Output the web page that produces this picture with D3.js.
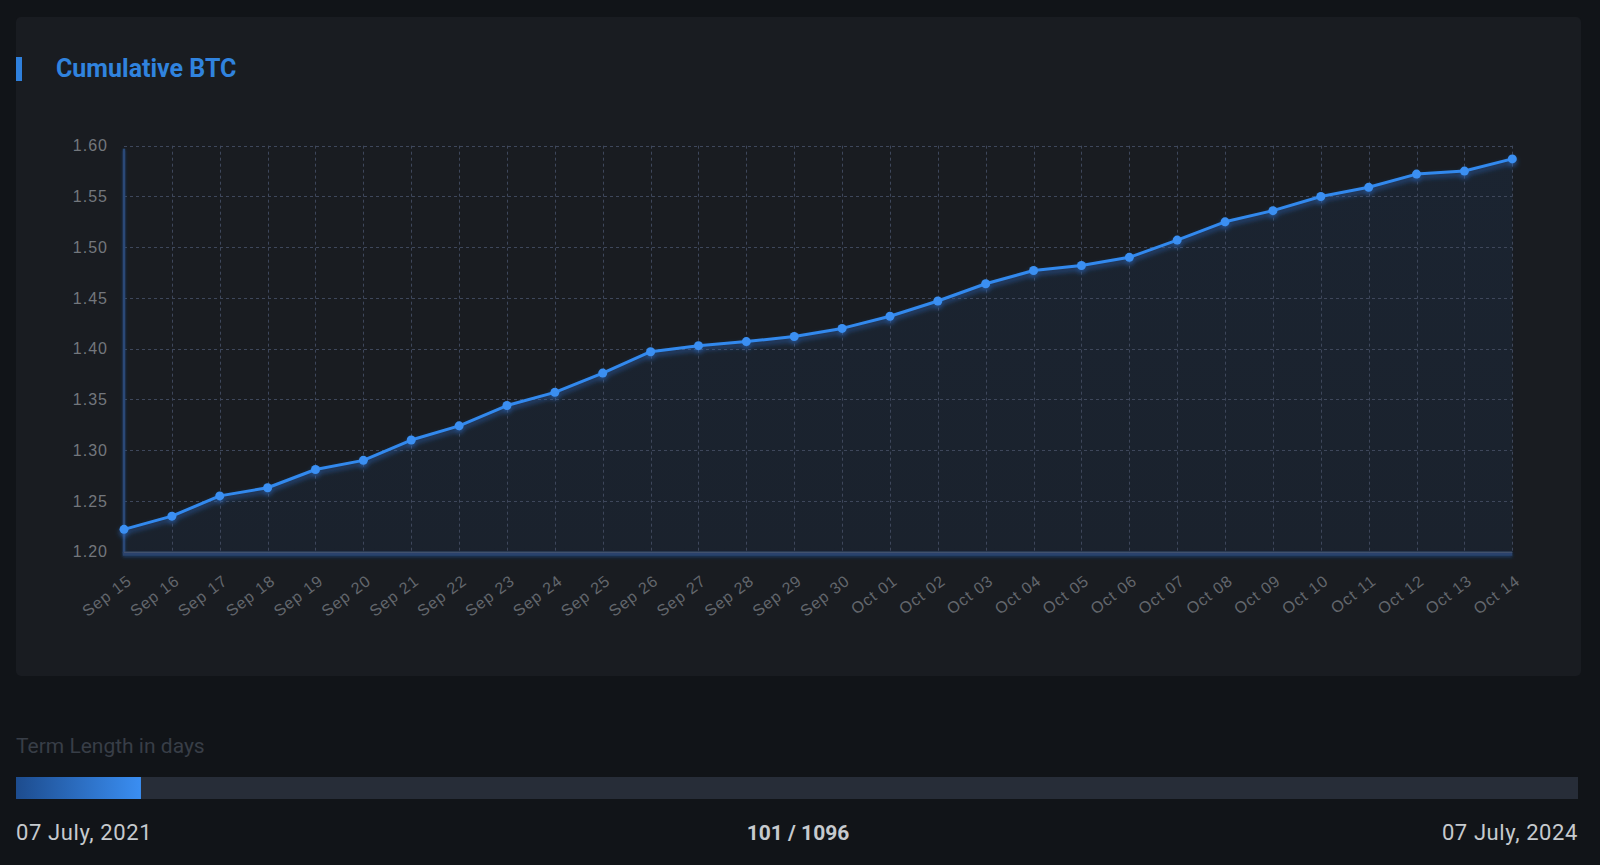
<!DOCTYPE html>
<html>
<head>
<meta charset="utf-8">
<script src="https://cdn.jsdelivr.net/npm/d3@7"></script>
<style>
  html, body { margin: 0; padding: 0; background: #111418; }
  svg { display: block; }
</style>
</head>
<body>
<svg id="chart" width="1600" height="865"></svg>
<script>
// ---- data ----
const categories = ["Sep 15","Sep 16","Sep 17","Sep 18","Sep 19","Sep 20","Sep 21","Sep 22","Sep 23","Sep 24",
  "Sep 25","Sep 26","Sep 27","Sep 28","Sep 29","Sep 30","Oct 01","Oct 02","Oct 03","Oct 04",
  "Oct 05","Oct 06","Oct 07","Oct 08","Oct 09","Oct 10","Oct 11","Oct 12","Oct 13","Oct 14"];
const cumulativeBTC = [1.222,1.235,1.255,1.263,1.281,1.290,1.310,1.324,1.344,1.357,
  1.376,1.397,1.403,1.407,1.412,1.420,1.432,1.447,1.464,1.477,
  1.482,1.490,1.507,1.525,1.536,1.550,1.559,1.572,1.575,1.587];
const yTicks = [1.20,1.25,1.30,1.35,1.40,1.45,1.50,1.55,1.60];
const chartTitle = "Cumulative BTC";
const termLabel = "Term Length in days";
const termCurrent = 101;
const termTotal = 1096;
const termFillShare = 0.08;   // filled share of the slider track
const termStart = "07 July, 2021";
const termEnd = "07 July, 2024";

// ---- layout ----
const svg = d3.select("#chart");
const defs = svg.append("defs");

const glow = defs.append("filter").attr("id","lineGlow")
  .attr("filterUnits","userSpaceOnUse").attr("x",0).attr("y",0).attr("width",1600).attr("height",865);
glow.append("feDropShadow").attr("dx",0).attr("dy",3).attr("stdDeviation",2.5)
  .attr("flood-color","#2a6fd0").attr("flood-opacity",0.6);

const axisGlow = defs.append("filter").attr("id","axisGlow")
  .attr("filterUnits","userSpaceOnUse").attr("x",0).attr("y",0).attr("width",1600).attr("height",865);
axisGlow.append("feDropShadow").attr("dx",0).attr("dy",1.5).attr("stdDeviation",1.5)
  .attr("flood-color","#1f4c8c").attr("flood-opacity",0.6);

const areaGrad = defs.append("linearGradient").attr("id","areaGrad")
  .attr("x1",0).attr("y1",0).attr("x2",0).attr("y2",1);
areaGrad.append("stop").attr("offset","0%").attr("stop-color","#2f7fe8").attr("stop-opacity",0.08);
areaGrad.append("stop").attr("offset","100%").attr("stop-color","#2f7fe8").attr("stop-opacity",0.06);

const barGrad = defs.append("linearGradient").attr("id","barGrad")
  .attr("x1",0).attr("y1",0).attr("x2",1).attr("y2",0);
barGrad.append("stop").attr("offset","0%").attr("stop-color","#1d4c8e");
barGrad.append("stop").attr("offset","100%").attr("stop-color","#3a8ef2");

// panel
svg.append("rect").attr("x",16).attr("y",17).attr("width",1565).attr("height",659)
  .attr("rx",5).attr("fill","#191c21");

// title
svg.append("rect").attr("x",16).attr("y",57).attr("width",6).attr("height",24).attr("fill","#2f80dc");
svg.append("text").attr("x",56).attr("y",76.5)
  .attr("font-family","Roboto, 'Liberation Sans', sans-serif").attr("font-weight","bold")
  .attr("font-size",25).attr("fill","#3083de").text(chartTitle);

const plot = {left:124, right:1512.3, top:145.7, bottom:551.7};
const x = d3.scalePoint().domain(categories).range([plot.left, plot.right]);
const y = d3.scaleLinear().domain([1.2, 1.6]).range([plot.bottom, plot.top]);

// area
const area = d3.area().x((d,i)=>x(categories[i])).y0(plot.bottom).y1(d=>y(d));
svg.append("path").datum(cumulativeBTC).attr("d",area).attr("fill","url(#areaGrad)");

// grid
const grid = svg.append("g").attr("stroke","#3e475b").attr("stroke-width",1).attr("stroke-dasharray","3,3");
grid.selectAll("line.h").data(yTicks.slice(1)).join("line").attr("class","h")
  .attr("x1",plot.left).attr("x2",plot.right)
  .attr("y1",d=>Math.round(y(d))+0.5).attr("y2",d=>Math.round(y(d))+0.5);
grid.selectAll("line.v").data(categories.slice(1)).join("line").attr("class","v")
  .attr("x1",d=>Math.round(x(d))+0.5).attr("x2",d=>Math.round(x(d))+0.5)
  .attr("y1",plot.top).attr("y2",plot.bottom);

// axes (d3 axes, styled)
const fontAxis = "'Liberation Sans', Arial, sans-serif";
const yAxis = svg.append("g").attr("transform",`translate(${plot.left},0)`)
  .call(d3.axisLeft(y).tickValues(yTicks).tickFormat(d3.format(".2f")).tickSize(0).tickPadding(16));
yAxis.select(".domain").remove();
yAxis.selectAll("text").attr("fill","#73777d").attr("font-size",16)
  .attr("font-family",fontAxis).attr("letter-spacing","1px");

const xAxis = svg.append("g").attr("transform",`translate(0,${plot.bottom})`)
  .call(d3.axisBottom(x).tickSize(0));
xAxis.select(".domain").remove();
xAxis.selectAll(".tick text")
  .attr("fill","#63676d").attr("font-size",16).attr("font-family",fontAxis)
  .attr("letter-spacing","1px")
  .attr("text-anchor","end").attr("dy",null).attr("y",null)
  .attr("dominant-baseline","central")
  .attr("transform","translate(5,27) rotate(-37)");

// axis lines (rects so the glow filter renders)
const axisG = svg.append("g").attr("filter","url(#axisGlow)");
axisG.append("rect").attr("x",plot.left-1.2).attr("y",plot.top+3).attr("width",2.4).attr("height",plot.bottom-plot.top-1)
  .attr("fill","#2c4a78");
axisG.append("rect").attr("x",plot.left-1.2).attr("y",plot.bottom).attr("width",plot.right-plot.left+1.2).attr("height",4)
  .attr("fill","#29436c");
svg.append("rect").attr("x",plot.left).attr("y",plot.bottom).attr("width",plot.right-plot.left).attr("height",1.2)
  .attr("fill","#44546f");

// line + points
const line = d3.line().x((d,i)=>x(categories[i])).y(d=>y(d));
const series = svg.append("g").attr("filter","url(#lineGlow)");
series.append("path").datum(cumulativeBTC).attr("d",line)
  .attr("fill","none").attr("stroke","#3289ee").attr("stroke-width",3).attr("stroke-linejoin","round");
series.selectAll("circle").data(cumulativeBTC).join("circle")
  .attr("cx",(d,i)=>x(categories[i])).attr("cy",d=>y(d)).attr("r",4.5).attr("fill","#3a8ff2");

// bottom term section
const fontUI = "Roboto, 'Liberation Sans', sans-serif";
svg.append("text").attr("x",16).attr("y",753).attr("font-family",fontUI).attr("font-size",21)
  .attr("fill","#383e47").text(termLabel);

const barX = d3.scaleLinear().domain([0, 1]).range([16, 1578]);
svg.append("rect").attr("x",barX(0)).attr("y",777).attr("width",barX(1)-barX(0)).attr("height",22)
  .attr("fill","#272d38");
svg.append("rect").attr("x",barX(0)).attr("y",777).attr("width",barX(termFillShare)-barX(0)).attr("height",22)
  .attr("fill","url(#barGrad)");

svg.append("text").attr("x",16).attr("y",840).attr("font-family",fontUI).attr("font-size",22)
  .attr("letter-spacing","0.6px").attr("fill","#c6cace").text(termStart);
svg.append("text").attr("x",1578).attr("y",840).attr("text-anchor","end").attr("font-family",fontUI).attr("font-size",22)
  .attr("letter-spacing","0.6px").attr("fill","#c6cace").text(termEnd);
svg.append("text").attr("x",798).attr("y",840).attr("text-anchor","middle").attr("font-family",fontUI)
  .attr("font-weight","bold").attr("font-size",21)
  .attr("fill","#c6cace").text(`${termCurrent} / ${termTotal}`);
</script>
</body>
</html>
